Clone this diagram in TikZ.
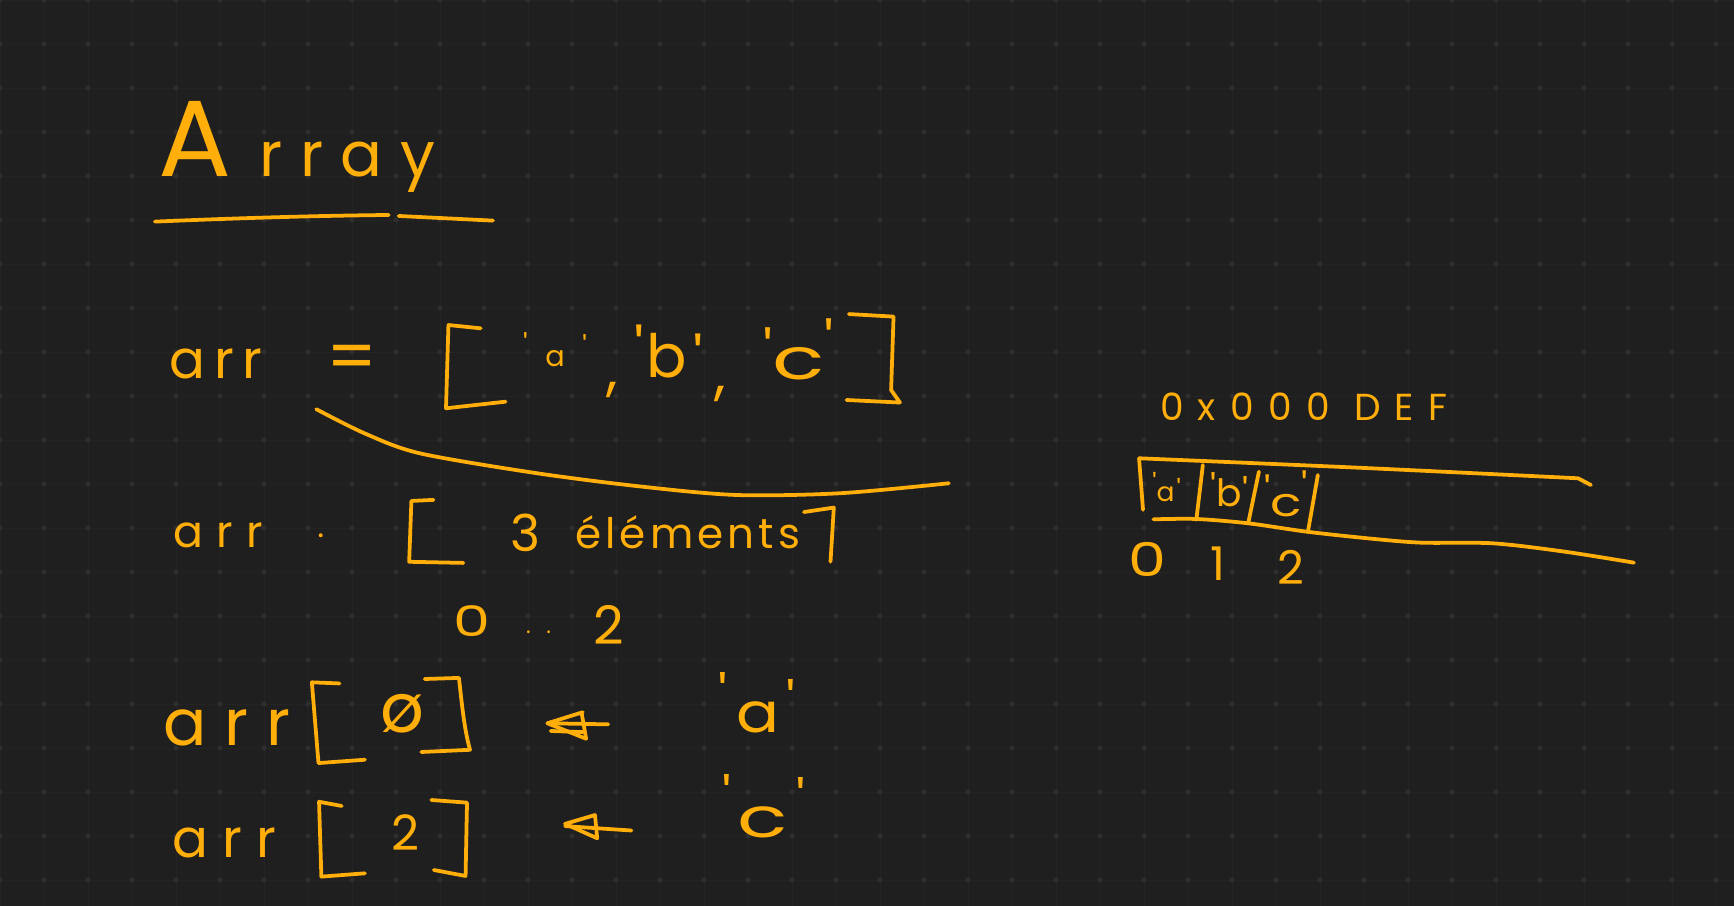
\documentclass[tikz,border=0pt]{standalone}
\usepackage{fontspec}
\newfontfamily\hwfont{Poppins}
\newcommand\hwf[1]{\hwfont\fontsize{#1}{#1}\selectfont}
\newcommand\qq{\textquotesingle}
\newcommand\wide[2]{\scalebox{#1}[1]{#2}}
\definecolor{ink}{HTML}{FFAE0A}
\definecolor{bgc}{HTML}{1F1F1F}
\definecolor{gridl}{HTML}{242424}
\definecolor{gridd}{HTML}{2E2E2E}
\begin{document}
\begin{tikzpicture}[x=0.5pt,y=-0.5pt,
  pen/.style={draw=ink,line width=1.7pt,line cap=round,line join=round},
  hw/.style={text=ink,inner sep=0pt,outer sep=0pt}]
\fill[bgc] (0,0) rectangle (1568,819);
\useasboundingbox (0,0) rectangle (1568,819);
% grid
\foreach \i in {0,...,39} {\draw[gridl,line width=0.4pt] (\i*39.79,0) -- (\i*39.79,819);}
\foreach \j in {0,...,20} {\draw[gridl,line width=0.4pt] (0,\j*39.79) -- (1568,\j*39.79);}
\foreach \i in {0,...,39} {\foreach \j in {0,...,20} {\fill[gridd] (\i*39.79,\j*39.79) circle (1.2pt);}}

% title
\node[hw,anchor=base west] (title) at (143,160) {{\hwf{49}A}\hspace{13pt}{\hwf{28}\addfontfeature{LetterSpace=28}rray}};
\draw[pen] (140,200.4) .. controls (220,197) and (290,195) .. (351.5,194.4);
\draw[pen] (360.5,195.3) -- (445.8,199.5);

% line 2
\node[hw,anchor=base west] (arrA) at (153,342) {\hwf{24}\addfontfeature{LetterSpace=17}arr};
\node[hw] (eqA) at (318,328.5) {\hwf{32}=};
\draw[pen] (434.7,296.9) -- (405.5,293.9) -- (403.3,369.2) -- (457.2,363.2);
\node[hw,anchor=base west] (qa) at (473,331.6) {\hwf{13}\raisebox{5pt}{\qq}\hspace{8pt}a\hspace{8pt}\raisebox{4pt}{\qq}};
\node[hw,anchor=base] (cm1) at (554,352) {\hwf{26},};
\node[hw,anchor=base west] (qb) at (574,341) {\hwf{27}\raisebox{2pt}{\qq}\hspace{1pt}b\hspace{3pt}\raisebox{-2pt}{\qq}};
\node[hw,anchor=base] (cm2) at (651,356) {\hwf{26},};
\node[hw,anchor=base west] (qc) at (690,343.6) {\hwf{26}\raisebox{3pt}{\qq}\hspace{0pt}\wide{1.5}{c}\hspace{0pt}\raisebox{7pt}{\qq}};
\draw[pen] (767.6,284) -- (808,286.3) -- (805.8,352.7) -- (813.8,364);
\draw[pen] (765.4,361.7) -- (813.8,364);
\draw[pen] plot[smooth] coordinates {(286,370) (330,392) (380,410) (486,428) (580,440) (666,447.6) (760,446) (858,437)};

% line 3
\node[hw,anchor=base west] (arrB) at (157,495) {\hwf{20}\addfontfeature{LetterSpace=30}arr};
\fill[ink] (290,484) circle (0.9pt);
\draw[pen] (392,452) -- (372,453) -- (370,508) -- (419,509);
\node[hw] (three) at (475.5,482) {\hwf{23}3};
\node[hw,anchor=base west] (elem) at (520,496) {\hwf{19}\addfontfeature{LetterSpace=10}éléments};
\draw[pen] (727,463) -- (754,459) -- (751,508);

% line 4
\node[hw] (zero) at (427,561.4) {\hwf{19}\wide{1.4}{0}};
\node[hw,anchor=base] (dots) at (487,573) {\hwf{10}.\hspace{7pt}.};
\node[hw] (two) at (550.5,565) {\hwf{24}2};

% line 5
\node[hw,anchor=base west] (arrC) at (147.4,674) {\hwf{29}\addfontfeature{LetterSpace=28}arr};
\draw[pen] (307,618) -- (282,617) -- (288,690) -- (330,687);
\node[hw] (oslash) at (363.5,645) {\hwf{31}ø};
\draw[pen] (384,614) -- (415,613) .. controls (418,640) and (420,660) .. (425,678) -- (381,680);
\draw[pen] (550,655) -- (495,654);
\draw[pen] (527,644) -- (495,654) -- (530,668);
\draw[pen] (526,645) -- (530,668);
\draw[pen] (498,661) -- (527,662);
\node[hw,anchor=base west] (ra) at (650,662) {\hwf{25}\raisebox{7pt}{\qq}\hspace{4pt}\wide{1.15}{a}\hspace{3pt}\raisebox{4pt}{\qq}};

% line 6
\node[hw,anchor=base west] (arrD) at (155.6,775) {\hwf{24}\addfontfeature{LetterSpace=27}arr};
\draw[pen] (309,728.8) -- (288.5,725) -- (290.6,792.7) -- (330,789.7);
\node[hw] (twoB) at (367,752.8) {\hwf{22}2};
\draw[pen] (390,723.4) -- (422.3,725.8) -- (421,792.1) -- (392.3,786.7);
\draw[pen] (511,747) -- (571,751);
\draw[pen] (538,737) -- (511,745) -- (540,758) -- cycle;
\node[hw,anchor=base west] (rc) at (653,757) {\hwf{25}\raisebox{8.5pt}{\qq}\hspace{3pt}\wide{1.5}{c}\hspace{4pt}\raisebox{7pt}{\qq}};

% right side: memory
\node[hw,anchor=base west] (addr) at (1049,380) {\hwf{17}\addfontfeature{LetterSpace=38}0x000 DEF};
\draw[pen] plot[smooth] coordinates {(1030,414.4) (1230,423) (1427,432.5)} -- (1438.6,438.6);
\draw[pen] (1030,414.4) -- (1033.6,461);
\draw[pen] plot[smooth] coordinates {(1043,469.6) (1081.8,469.3) (1128.7,473.2) (1181.8,480.8) (1237,486.8) (1285,490.7) (1350,491.3) (1414.5,498.8) (1477.5,508.8)};
\draw[pen] (1087.7,420.5) -- (1081.8,470);
\draw[pen] (1138.4,426.5) -- (1128.7,473.2);
\draw[pen] (1191.7,429.5) -- (1182.7,480.8);
\node[hw,anchor=base west] (ca) at (1042,453.6) {\hwf{12}\raisebox{3.5pt}{\qq}\hspace{0pt}a\hspace{1pt}\raisebox{1pt}{\qq}};
\node[hw,anchor=base west] (cb) at (1095,458) {\hwf{17}\raisebox{2pt}{\qq}\hspace{0pt}b\hspace{0pt}\qq};
\node[hw,anchor=base west] (cc) at (1143,467) {\hwf{18}\raisebox{4.5pt}{\qq}\hspace{0pt}\wide{1.3}{c}\hspace{0pt}\raisebox{6.5pt}{\qq}};
\node[hw] (i0) at (1037.5,505.6) {\hwf{21}\wide{1.3}{0}};
\node[hw] (i1) at (1101,509.4) {\hwf{21}1};
\node[hw] (i2) at (1167.5,513) {\hwf{21}2};
\end{tikzpicture}
\end{document}
